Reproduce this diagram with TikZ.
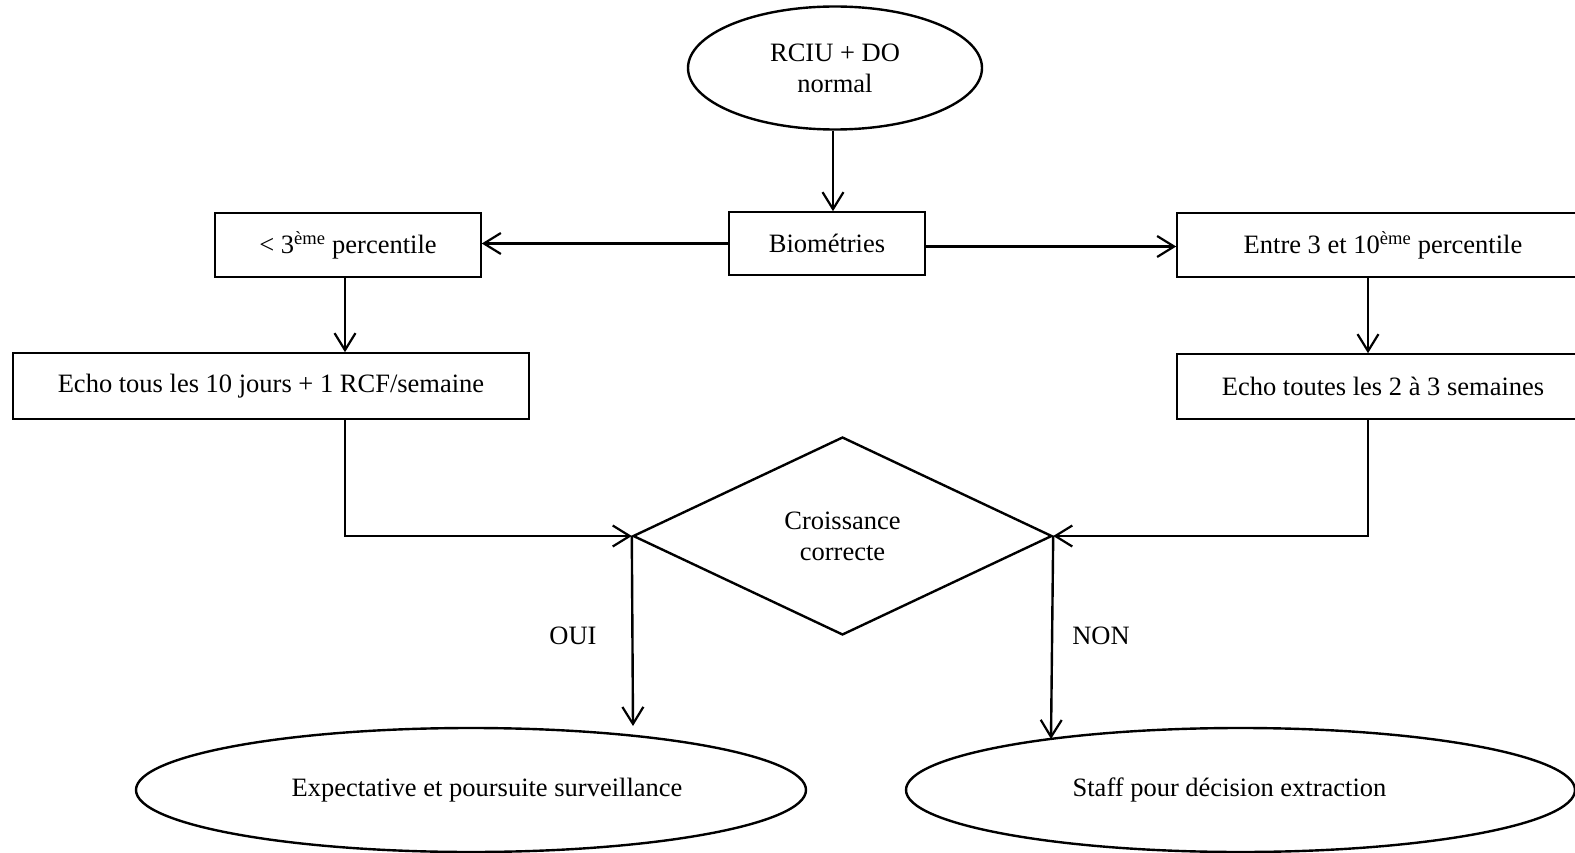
\documentclass[tikz,border=0pt]{standalone}
\usepackage{fontspec}
\setmainfont{Liberation Serif}
\usetikzlibrary{shapes.geometric,arrows.meta}
\begin{document}
\begin{tikzpicture}[x=1pt,y=-1pt,
  every node/.style={font=\fontsize{26.5}{31}\selectfont, inner sep=0pt, align=center},
  boxnode/.style={draw, line width=1.6pt, rectangle},
  ellnode/.style={draw, line width=2.4pt, ellipse},
  dianode/.style={draw, line width=2.4pt, diamond},
  conn/.style={line width=2.4pt, -{Straight Barb[length=17pt,width=21pt,line width=2.2pt]}},
  lbl/.style={}]
\useasboundingbox (0,0) rectangle (1575,853);
\begin{scope}
\clip (0,0) rectangle (1575,853);
\node[ellnode, minimum width=294pt, minimum height=123pt] (top) at (835,68) {RCIU + DO\\normal};
\node[boxnode, minimum width=196pt, minimum height=63pt] (bio) at (827,243.5) {Biométries};
\node[boxnode, minimum width=266pt, minimum height=64pt] (lbox) at (348,245) {< 3\textsuperscript{ème} percentile};
\node[boxnode, minimum width=412pt, minimum height=64pt] (rbox) at (1383,245) {Entre 3 et 10\textsuperscript{ème} percentile};
\node[boxnode, minimum width=516pt, minimum height=66pt] (llow) at (271,386) {Echo tous les 10 jours + 1 RCF/semaine};
\node[boxnode, minimum width=412pt, minimum height=65pt] (rlow) at (1383,386.5) {Echo toutes les 2 à 3 semaines};
\node[dianode, minimum width=419pt, minimum height=198pt] (d) at (842.5,536) {Croissance\\correcte};
\node[ellnode, minimum width=670pt, minimum height=124pt] (el) at (471,790) {\hspace*{32pt}Expectative et poursuite surveillance};
\node[ellnode, minimum width=669pt, minimum height=124pt] (er) at (1240.5,790) {Staff pour décision extraction\hspace*{22pt}};
\node[lbl] (oui) at (573,636) {OUI};
\node[lbl] (non) at (1101,636) {NON};
\coordinate (ltip) at (633,726);
\coordinate (rtip) at (1051,739);
\coordinate (rx) at (1368,0);
\coordinate (lx) at (345,0);

\draw[conn] ([xshift=-2pt]top.south) -- ([xshift=-2pt]top.south |- bio.north);
\draw[conn] (bio.west) -- (bio.west -| lbox.east);
\draw[conn] ([yshift=-3pt]bio.east) -- ([yshift=-3pt]bio.east -| rbox.west);
\draw[conn] (lx |- lbox.south) -- (lx |- llow.north);
\draw[conn] (rx |- rbox.south) -- (rx |- rlow.north);
\draw[conn] (lx |- llow.south) |- (d.west);
\draw[conn] (rx |- rlow.south) |- (d.east);
\draw[conn] (d.west) -- (ltip);
\draw[conn] (d.east) -- (rtip);
\end{scope}
\end{tikzpicture}
\end{document}
